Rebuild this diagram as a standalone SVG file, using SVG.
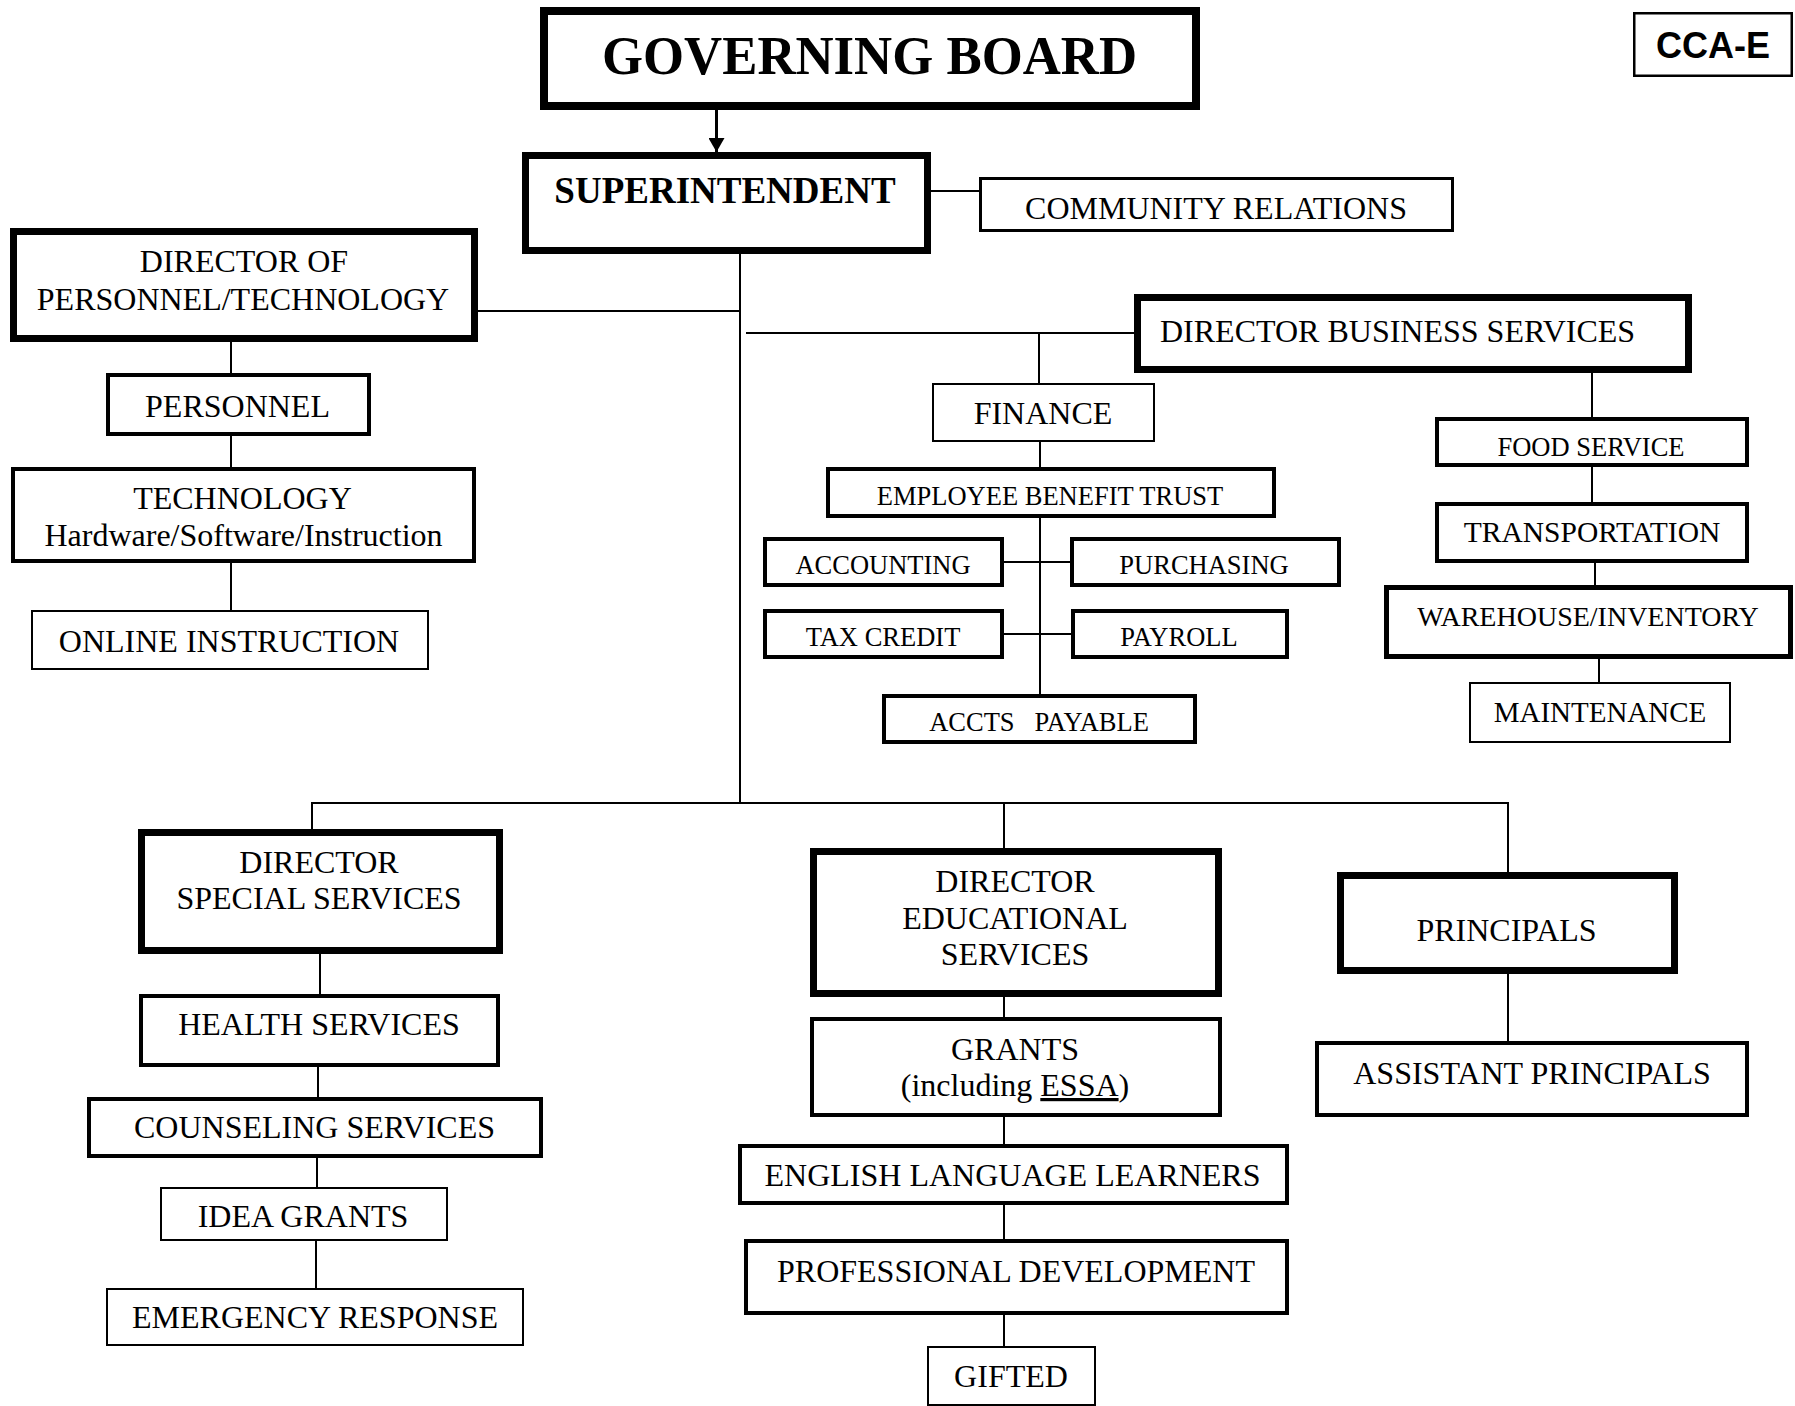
<svg xmlns="http://www.w3.org/2000/svg" width="1795" height="1406" viewBox="0 0 1795 1406">
<style>
rect{fill:#fff;stroke:#000}
.k8{stroke-width:8}.k7{stroke-width:7}.k5{stroke-width:5}.k4{stroke-width:4}.k3{stroke-width:3}.k2{stroke-width:2}
text{font-family:"Liberation Serif","Times New Roman",serif;fill:#000;text-anchor:middle;font-size:32px}
.b{font-weight:bold}
.s{font-size:26.5px}
#connectors line{stroke:#000;stroke-width:2}
</style>
<defs>
<marker id="ah" viewBox="0 0 14 16" refX="14" refY="8" markerWidth="14" markerHeight="16" markerUnits="userSpaceOnUse" orient="auto">
<path d="M0,0 L14,8 L0,16 z" fill="#000"/>
</marker>
</defs>
<g id="connectors">
<line x1="716.5" y1="110" x2="716.5" y2="152" style="stroke-width:3" marker-end="url(#ah)"/>
<line x1="931" y1="191" x2="979" y2="191"/>
<line x1="740" y1="254" x2="740" y2="803"/>
<line x1="478" y1="311" x2="740" y2="311"/>
<line x1="746" y1="333" x2="1134" y2="333"/>
<line x1="1039" y1="333" x2="1039" y2="383"/>
<line x1="231" y1="342" x2="231" y2="373"/>
<line x1="231" y1="436" x2="231" y2="467"/>
<line x1="231" y1="563" x2="231" y2="610"/>
<line x1="1040" y1="442" x2="1040" y2="467"/>
<line x1="1040" y1="518" x2="1040" y2="694"/>
<line x1="1004" y1="562" x2="1070" y2="562"/>
<line x1="1004" y1="634" x2="1071" y2="634"/>
<line x1="1592" y1="373" x2="1592" y2="417"/>
<line x1="1592" y1="467" x2="1592" y2="502"/>
<line x1="1595" y1="563" x2="1595" y2="585"/>
<line x1="1599" y1="659" x2="1599" y2="682"/>
<line x1="311" y1="803" x2="1509" y2="803"/>
<line x1="312" y1="803" x2="312" y2="829"/>
<line x1="320" y1="954" x2="320" y2="994"/>
<line x1="318" y1="1067" x2="318" y2="1097"/>
<line x1="317" y1="1158" x2="317" y2="1187"/>
<line x1="316" y1="1241" x2="316" y2="1288"/>
<line x1="1004" y1="803" x2="1004" y2="848"/>
<line x1="1004" y1="997" x2="1004" y2="1017"/>
<line x1="1004" y1="1117" x2="1004" y2="1144"/>
<line x1="1004" y1="1205" x2="1004" y2="1239"/>
<line x1="1004" y1="1315" x2="1004" y2="1346"/>
<line x1="1508" y1="803" x2="1508" y2="872"/>
<line x1="1508" y1="974" x2="1508" y2="1041"/>
</g>
<g id="governing-board"><rect class="k8" x="544" y="11" width="652" height="95"/><text class="b" x="869.5" y="74" style="font-size:55px" textLength="535" lengthAdjust="spacingAndGlyphs">GOVERNING BOARD</text></g>
<g id="cca-e"><rect style="stroke-width:2.5" x="1634.25" y="13.25" width="157.5" height="62.5"/><text class="b" x="1713" y="58" style="font-family:'Liberation Sans',Arial,sans-serif;font-size:36px">CCA-E</text></g>
<g id="superintendent"><rect class="k7" x="525.5" y="155.5" width="402" height="95"/><text class="b" x="725" y="203" style="font-size:37px">SUPERINTENDENT</text></g>
<g id="community-relations"><rect class="k3" x="980.5" y="178.5" width="472" height="52"/><text x="1216" y="219">COMMUNITY RELATIONS</text></g>
<g id="director-personnel-technology"><rect class="k7" x="13.5" y="231.5" width="461" height="107"/><text x="244" y="272">DIRECTOR OF</text><text x="243" y="310">PERSONNEL/TECHNOLOGY</text></g>
<g id="personnel"><rect class="k4" x="108" y="375" width="261" height="59"/><text x="237.5" y="417">PERSONNEL</text></g>
<g id="technology"><rect class="k4" x="13" y="469" width="461" height="92"/><text x="242.5" y="509">TECHNOLOGY</text><text x="243.5" y="546">Hardware/Software/Instruction</text></g>
<g id="online-instruction"><rect class="k2" x="32" y="611" width="396" height="58"/><text x="229" y="652">ONLINE INSTRUCTION</text></g>
<g id="director-business-services"><rect class="k7" x="1137.5" y="297.5" width="551" height="72"/><text x="1160" y="342" style="text-anchor:start">DIRECTOR BUSINESS SERVICES</text></g>
<g id="finance"><rect class="k2" x="933" y="384" width="221" height="57"/><text x="1043" y="424">FINANCE</text></g>
<g id="employee-benefit-trust"><rect class="k4" x="828" y="469" width="446" height="47"/><text class="s" x="1050" y="505">EMPLOYEE BENEFIT TRUST</text></g>
<g id="accounting"><rect class="k4" x="765" y="539" width="237" height="46"/><text class="s" x="883" y="574">ACCOUNTING</text></g>
<g id="purchasing"><rect class="k4" x="1072" y="539" width="267" height="46"/><text class="s" x="1204" y="574">PURCHASING</text></g>
<g id="tax-credit"><rect class="k4" x="765" y="611" width="237" height="46"/><text class="s" x="883" y="646">TAX CREDIT</text></g>
<g id="payroll"><rect class="k4" x="1073" y="611" width="214" height="46"/><text class="s" x="1179" y="646">PAYROLL</text></g>
<g id="accts-payable"><rect class="k4" x="884" y="696" width="311" height="46"/><text class="s" x="1039" y="731" xml:space="preserve">ACCTS   PAYABLE</text></g>
<g id="food-service"><rect class="k4" x="1437" y="419" width="310" height="46"/><text class="s" x="1591" y="456">FOOD SERVICE</text></g>
<g id="transportation"><rect class="k4" x="1437" y="504" width="310" height="57"/><text x="1592" y="542" style="font-size:29.5px">TRANSPORTATION</text></g>
<g id="warehouse-inventory"><rect class="k5" x="1386.5" y="587.5" width="404" height="69"/><text x="1588" y="626" style="font-size:28px">WAREHOUSE/INVENTORY</text></g>
<g id="maintenance"><rect class="k2" x="1470" y="683" width="260" height="59"/><text x="1600" y="722" style="font-size:29px">MAINTENANCE</text></g>
<g id="director-special-services"><rect class="k7" x="141.5" y="832.5" width="358" height="118"/><text x="319" y="873">DIRECTOR</text><text x="319" y="909">SPECIAL SERVICES</text></g>
<g id="health-services"><rect class="k4" x="141" y="996" width="357" height="69"/><text x="319" y="1035">HEALTH SERVICES</text></g>
<g id="counseling-services"><rect class="k4" x="89" y="1099" width="452" height="57"/><text x="314.5" y="1138">COUNSELING SERVICES</text></g>
<g id="idea-grants"><rect class="k2" x="161" y="1188" width="286" height="52"/><text x="303" y="1227">IDEA GRANTS</text></g>
<g id="emergency-response"><rect class="k2" x="107" y="1289" width="416" height="56"/><text x="315" y="1328">EMERGENCY RESPONSE</text></g>
<g id="director-educational-services"><rect class="k7" x="813.5" y="851.5" width="405" height="142"/><text x="1015" y="892">DIRECTOR</text><text x="1015" y="929">EDUCATIONAL</text><text x="1015" y="965">SERVICES</text></g>
<g id="grants"><rect class="k4" x="812" y="1019" width="408" height="96"/><text x="1015" y="1060">GRANTS</text><text x="1015" y="1096">(including <tspan text-decoration="underline">ESSA</tspan>)</text></g>
<g id="english-language-learners"><rect class="k4" x="740" y="1146" width="547" height="57"/><text x="1012.5" y="1186">ENGLISH LANGUAGE LEARNERS</text></g>
<g id="professional-development"><rect class="k4" x="746" y="1241" width="541" height="72"/><text x="1016" y="1282">PROFESSIONAL DEVELOPMENT</text></g>
<g id="gifted"><rect class="k2" x="928" y="1347" width="167" height="58"/><text x="1011" y="1387">GIFTED</text></g>
<g id="principals"><rect class="k7" x="1340.5" y="875.5" width="334" height="95"/><text x="1506.5" y="941">PRINCIPALS</text></g>
<g id="assistant-principals"><rect class="k4" x="1317" y="1043" width="430" height="72"/><text x="1532" y="1084">ASSISTANT PRINCIPALS</text></g>
</svg>
